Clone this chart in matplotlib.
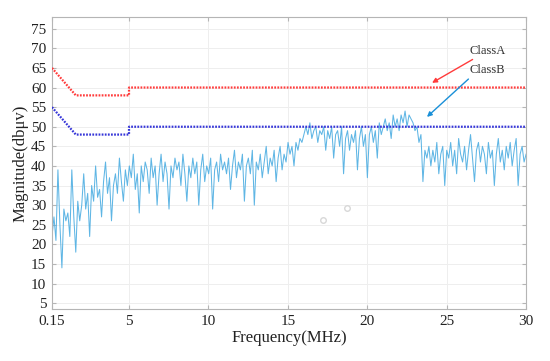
import matplotlib
matplotlib.use('Agg')
import matplotlib.pyplot as plt
import numpy as np

# measured spectrum, roughly 8 samples per MHz from 0.15 to 30 MHz
level = [
    22, 27, 21, 39, 25, 14, 29, 26,
    28, 22, 39, 27, 18, 31, 26, 30,
    38, 29, 33, 22, 35, 31, 40, 32,
    34, 27, 36, 41, 33, 37, 26, 35,
    38, 33, 42, 36, 31, 39, 35, 40,
    37, 43, 34, 38, 28, 40, 36, 41,
    39, 33, 42, 37, 40, 30, 38, 43,
    36, 41, 38, 29, 40, 37, 42, 39,
    41, 35, 43, 38, 31, 40, 37, 42,
    38, 41, 30, 39, 43, 36, 40, 38,
    42, 29, 39, 41, 36, 43, 39, 41,
    38, 42, 34, 40, 44, 37, 41, 39,
    43, 31, 40, 42, 38, 44, 30, 41,
    39, 43, 37, 41, 45, 38, 42, 40,
    44, 36, 42, 45, 39, 43, 41, 46,
    43, 45, 40, 46, 44, 47, 46, 48,
    50, 48, 51, 47, 49, 50, 46, 49,
    48, 50, 44, 49, 47, 50, 42, 48,
    49, 45, 50, 38, 47, 49, 44, 48,
    46, 49, 39, 47, 50, 45, 48, 37,
    48, 50, 46, 49, 42, 51, 48, 50,
    52, 49, 51, 47, 53, 50, 52, 49,
    53, 51, 54, 50, 53, 52, 51, 49,
    50, 46, 48, 36, 44, 42, 45, 40,
    44, 41, 46, 38, 43, 45, 35, 44,
    42, 46, 40, 44, 38, 47, 43, 41,
    45, 39, 44, 48, 42, 36, 44, 46,
    41, 45, 43, 38, 46, 42, 44, 35,
    43, 47, 41, 44, 39, 45, 42, 46,
    40, 44, 47, 35, 43, 45, 41, 43,
]
freq = np.linspace(0.15, 30, len(level))

# limit lines
lim_freq = [0.15, 1.65, 5, 5, 30]
class_a = [65, 58, 58, 60, 60]
class_b = [55, 48, 48, 50, 50]

# stray circles in the picture
stray_f = [17.2, 18.7]
stray_v = [26.2, 29.2]

xticks = [0.15, 5, 10, 15, 20, 25, 30]
xticklabels = ['0.15', '5', '10', '15', '20', '25', '30']
yticks = list(range(5, 80, 5))

plt.rcParams['font.family'] = ['Liberation Serif', 'DejaVu Serif']

fig = plt.figure(figsize=(5.5, 3.61), dpi=100)
ax = fig.add_axes([0.0945, 0.144, 0.862, 0.809])

ax.plot(freq, level, color='#4eaee2', lw=0.75, alpha=0.9, zorder=2)
ax.plot(lim_freq, class_a, color='#ff3b3b', lw=1.6, ls=(0, (0.8, 0.6)), zorder=3)
ax.plot(lim_freq, class_b, color='#3535d8', lw=1.6, ls=(0, (0.8, 0.6)), zorder=3)
ax.plot(stray_f, stray_v, 'o', ms=4, mfc='none', mec='#d8d8d8', mew=1.0, zorder=1)

ax.set_xlim(0.15, 30)
ax.set_ylim(3.5, 78)
ax.set_xticks(xticks)
ax.set_xticklabels(xticklabels)
ax.set_yticks(yticks)
ax.grid(True, color='#eeeeee', lw=0.7)
ax.set_axisbelow(True)
for s in ax.spines.values():
    s.set_color('#b5b5b5')
    s.set_linewidth(0.8)
ax.tick_params(direction='in', length=3, color='#b5b5b5', labelsize=11,
               labelcolor='#222222', top=True, right=True, pad=4)

ax.set_xlabel('Frequency(MHz)', fontsize=12, color='#222222', labelpad=2)
ax.set_ylabel('Magnitude(db\u03bcv)', fontsize=12, color='#222222', labelpad=2)

ax.annotate('ClassA', xy=(24.08, 61.2), xytext=(26.45, 69.4),
            fontsize=9, color='#333333', va='center', ha='left',
            arrowprops=dict(arrowstyle='-|>', color='#ff3b3b', lw=1.0,
                            mutation_scale=7, shrinkA=0, shrinkB=0))
ax.annotate('ClassB', xy=(23.76, 52.5), xytext=(26.45, 64.4),
            fontsize=9, color='#333333', va='center', ha='left',
            arrowprops=dict(arrowstyle='-|>', color='#1a90d8', lw=1.0,
                            mutation_scale=7, shrinkA=0, shrinkB=0,
                            relpos=(0.05, 0.0)))

fig.savefig('out.png', dpi=100)
